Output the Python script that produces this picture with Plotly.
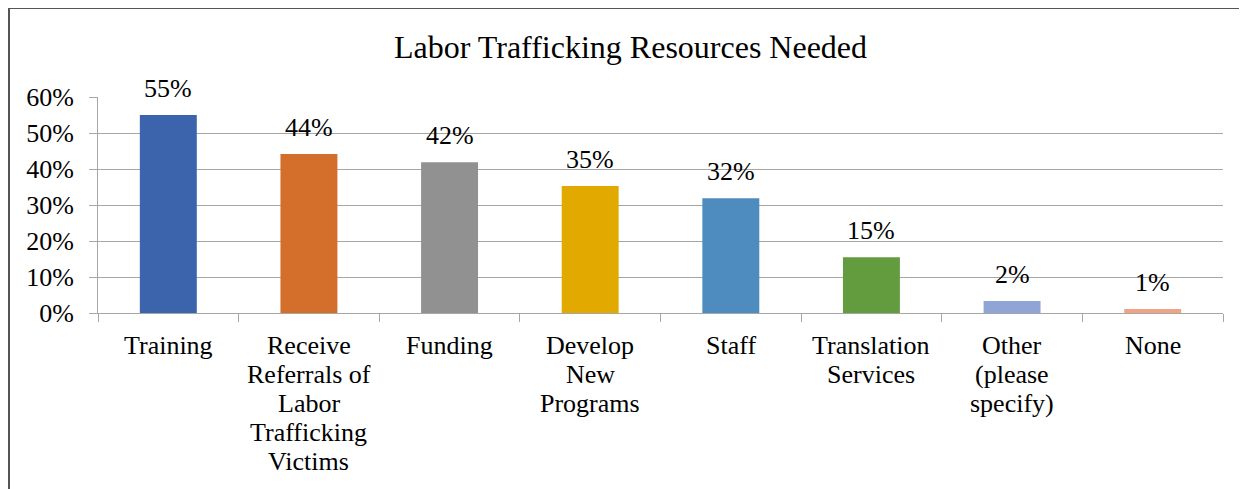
import plotly.graph_objects as go

categories = ["Training", "Receive Referrals of Labor Trafficking Victims", "Funding",
              "Develop New Programs", "Staff", "Translation Services",
              "Other (please specify)", "None"]
category_lines = [["Training"], ["Receive", "Referrals of", "Labor", "Trafficking", "Victims"], ["Funding"],
                  ["Develop", "New", "Programs"], ["Staff"], ["Translation", "Services"],
                  ["Other", "(please", "specify)"], ["None"]]
values = [0.55, 0.442, 0.419, 0.353, 0.319, 0.155, 0.033, 0.011]
value_labels = ["55%", "44%", "42%", "35%", "32%", "15%", "2%", "1%"]
colors = ["#3B64AD", "#D46E2B", "#919191", "#E2AA00", "#4E8BBF", "#629C3F", "#8FA5D6", "#F1A386"]
y_ticks = [0, 0.1, 0.2, 0.3, 0.4, 0.5, 0.6]
title_text = "Labor Trafficking Resources Needed"

FONT = "Liberation Serif"
GRID = "#A6A6A6"

# page has an 8px body margin; work in screenshot pixels and convert
OFF = 8
W, H = 1247 - OFF, 489 - OFF
PL, PR, PT, PB = 98, 1223, 97, 313  # plot area in screenshot pixels
L, R, T, B = PL - OFF, (W + OFF) - PR, PT - OFF, (H + OFF) - PB
pw, ph = PR - PL, PB - PT

def px_x(px):
    return (px - PL) / pw

def px_y(py):
    return (PB - py) / ph

fig = go.Figure()
fig.add_trace(go.Bar(x=categories, y=values, marker=dict(color=colors, line=dict(width=0)),
                     hoverinfo="skip"))

for c, v, t in zip(categories, values, value_labels):
    fig.add_annotation(x=c, y=v, text=t, showarrow=False, yanchor="bottom", yshift=10,
                       font=dict(family=FONT, size=26, color="#000000"))

# category labels, one line each, tighter line spacing than plotly's tick labels
for c, lines in zip(categories, category_lines):
    for i, line in enumerate(lines):
        fig.add_annotation(x=c, xref="x", yref="paper", y=px_y(345 + 29 * i), text=line,
                           showarrow=False, xanchor="center", yanchor="middle",
                           font=dict(family=FONT, size=26, color="#000000"))

fig.add_annotation(xref="paper", yref="paper", x=px_x(630), y=px_y(47), text=title_text,
                   showarrow=False, xanchor="center", yanchor="middle",
                   font=dict(family=FONT, size=32, color="#000000"))

# outer frame (left and top edges visible)
fig.add_shape(type="line", xref="paper", yref="paper", x0=px_x(9), x1=px_x(9),
              y0=px_y(8), y1=px_y(500), line=dict(color="#555555", width=2))
fig.add_shape(type="line", xref="paper", yref="paper", x0=px_x(9), x1=px_x(1260),
              y0=px_y(8), y1=px_y(8), line=dict(color="#555555", width=2))

fig.update_layout(
    width=W, height=H,
    margin=dict(l=L, r=R, t=T, b=B, autoexpand=False),
    paper_bgcolor="white", plot_bgcolor="white",
    bargap=0.595, showlegend=False,
    font=dict(family=FONT, size=26, color="#000000"),
)
fig.update_xaxes(showline=True, linecolor=GRID, linewidth=1, ticks="outside", tickson="boundaries",
                 ticklen=8, tickcolor=GRID, showticklabels=False,
                 automargin=False, showgrid=False)
fig.update_yaxes(range=[0, 0.6], tickvals=y_ticks, tickformat=".0%", showgrid=True, gridcolor=GRID,
                 gridwidth=1, showline=True, linecolor=GRID, linewidth=1, ticks="outside", ticklen=8,
                 tickcolor=GRID, tickfont=dict(family=FONT, size=26), ticklabelstandoff=10,
                 automargin=False, zeroline=False)

fig.write_html("out.html")
